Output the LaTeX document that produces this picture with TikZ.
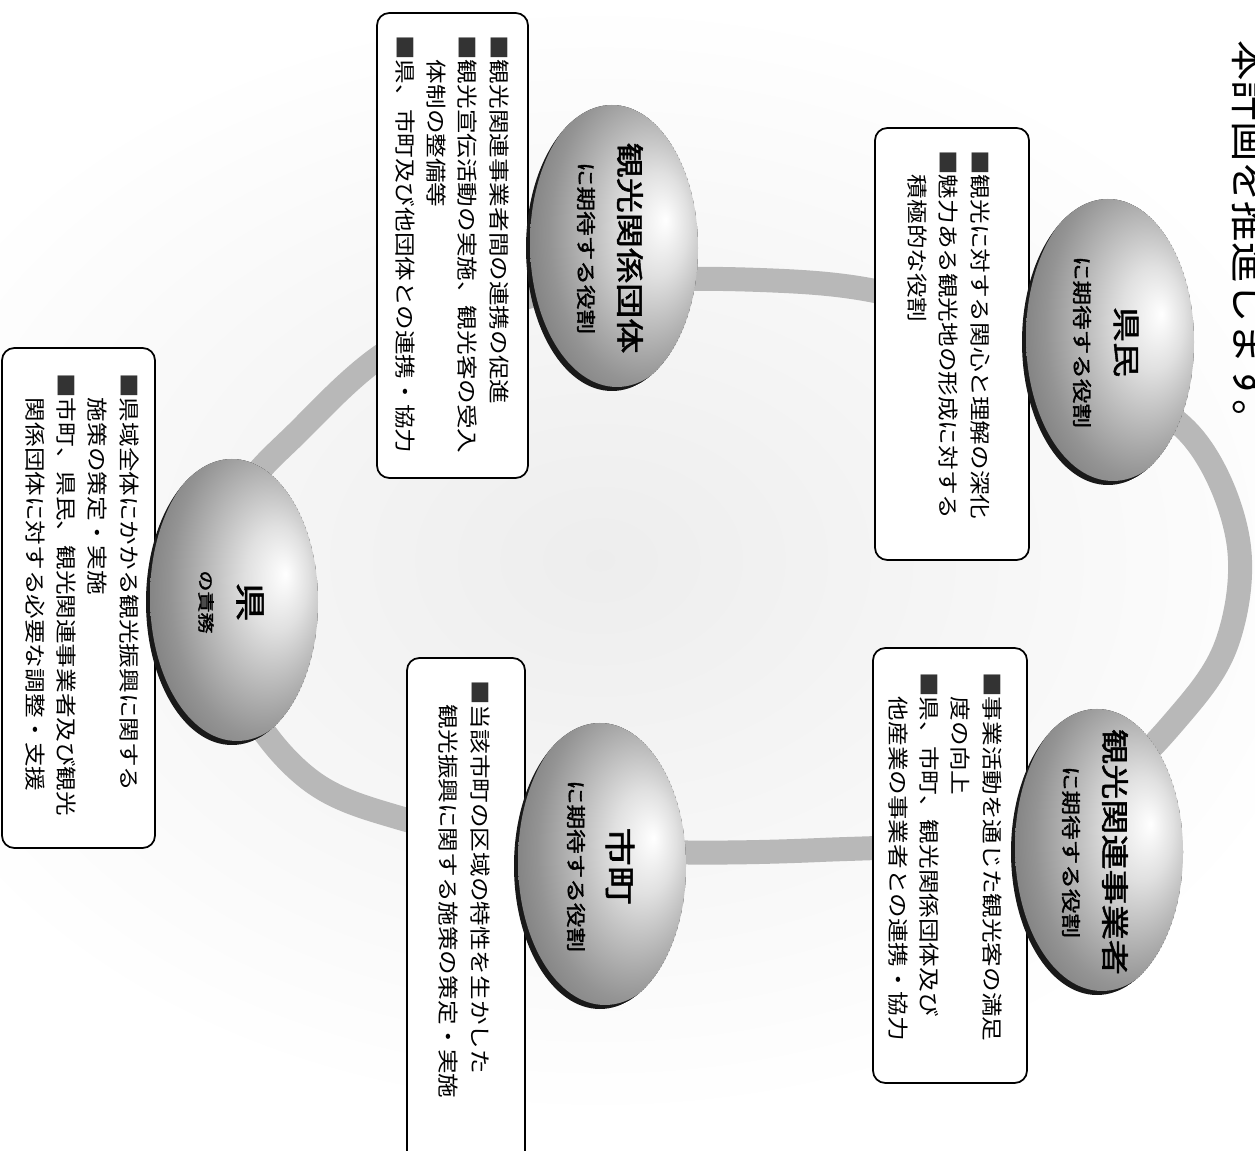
\documentclass[tikz,border=0pt]{standalone}
\usepackage{fontspec}
\setmainfont{Noto Sans CJK JP}
\newfontfamily\jpb{Noto Sans CJK JP}[FakeBold=1.5]
\pgfdeclareradialshading{ovalshade}{\pgfpoint{14bp}{4bp}}{color(0bp)=(white); color(9bp)=(white!88!black); color(26bp)=(black!42); color(40bp)=(black!60); color(50bp)=(black!70)}
\tikzset{
  boxtxt/.style={rotate=-90, yscale=.85, transform shape, anchor=north west, inner sep=0pt, align=left, font=\fontsize{14pt}{21pt}\selectfont},
  ttl/.style={rotate=-90, yscale=.8, transform shape, inner sep=0pt, font=\jpb\fontsize{20pt}{24pt}\selectfont},
  subttl/.style={rotate=-90, yscale=.8, transform shape, inner sep=0pt, font=\jpb\fontsize{14pt}{16pt}\selectfont},
  roundbox/.style={draw=black, line width=1pt, fill=white, rounded corners=7pt},
  ringband/.style={line width=0.48cm, draw=black!28}
}
\newcommand\bul{\textcolor{black!80}{■}}
\newcommand\ovalball[2]{%
  \begin{scope}
    \clip (#1,#2) ellipse [x radius=86, y radius=143];
    \fill[black!90] (#1,#2) ellipse [x radius=86, y radius=143];
    \shade[shading=ovalshade] ([shift={(5,-5)}]#1,#2) ellipse [x radius=87, y radius=144];
  \end{scope}}
\begin{document}
\begin{tikzpicture}[x=0.02cm,y=-0.02cm]
\useasboundingbox (0,0) rectangle (1255,1151);
% faint spray in the middle
\shade[inner color=black!7, outer color=white] (600,560) ellipse [x radius=760, y radius=560];
% ring
\draw[ringband] plot[smooth cycle, tension=0.6] coordinates {(300,430) (390,350) (500,305) (612,282) (760,280) (880,292) (1000,330) (1110,380) (1195,440) (1238,540) (1228,640) (1180,715) (1100,790) (980,838) (820,850) (660,852) (520,842) (400,818) (310,780) (245,700) (222,600) (240,500)};
% boxes
\draw[roundbox] (377,13) rectangle (528,478);
\draw[roundbox] (875,128) rectangle (1029,560);
\draw[roundbox] (873,648) rectangle (1027,1083);
\draw[roundbox] (407,658) rectangle (525,1180);
\draw[roundbox] (2,348) rectangle (155,848);
% ovals
\ovalball{612}{248}
\ovalball{1108}{342}
\ovalball{1097}{852}
\ovalball{600}{866}
\ovalball{232}{602}
% oval labels
\node[ttl] (t1) at (630,248) {観光関係団体};
\node[subttl] (s1) at (586,248) {に期待する役割};
\node[ttl] (t2) at (1126,342) {県民};
\node[subttl] (s2) at (1082,342) {に期待する役割};
\node[ttl] (t3) at (1115,852) {観光関連事業者};
\node[subttl] (s3) at (1071,852) {に期待する役割};
\node[ttl,font=\jpb\fontsize{22pt}{24pt}\selectfont] (t4) at (620,866) {市町};
\node[subttl] (s4) at (576,866) {に期待する役割};
\node[ttl,font=\jpb\fontsize{22pt}{24pt}\selectfont] (t5) at (250,602) {県};
\node[subttl,font=\jpb\fontsize{12pt}{14pt}\selectfont] (s5) at (206,602) {の責務};
% box texts
\node[boxtxt] (b1) at (509,35) {\bul 観光関連事業者間の連携の促進\\ \bul 観光宣伝活動の実施、観光客の受入\\ \hspace*{1em}体制の整備等\\ \bul 県、市町及び他団体との連携・協力};
\node[boxtxt] (b2) at (990,150) {\bul 観光に対する関心と理解の深化\\ \bul 魅力ある観光地の形成に対する\\ \hspace*{1em}積極的な役割};
\node[boxtxt] (b3) at (1002,672) {\bul 事業活動を通じた観光客の満足\\ \hspace*{1em}度の向上\\ \bul 県、市町、観光関係団体及び\\ \hspace*{1em}他産業の事業者との連携・協力};
\node[boxtxt] (b4) at (490,680) {\bul 当該市町の区域の特性を生かした\\ \hspace*{1em}観光振興に関する施策の策定・実施};
\node[boxtxt] (b5) at (139,373) {\bul 県域全体にかかる観光振興に関する\\ \hspace*{1em}施策の策定・実施\\ \bul 市町、県民、観光関連事業者及び観光\\ \hspace*{1em}関係団体に対する必要な調整・支援};
% lead text (cut at the page edge, as in the reference)
\node[rotate=-90, anchor=south west, inner sep=0pt, font=\fontsize{23pt}{23pt}\selectfont] (lead) at (1232,40) {本計画を推進します。};
\end{tikzpicture}
\end{document}
